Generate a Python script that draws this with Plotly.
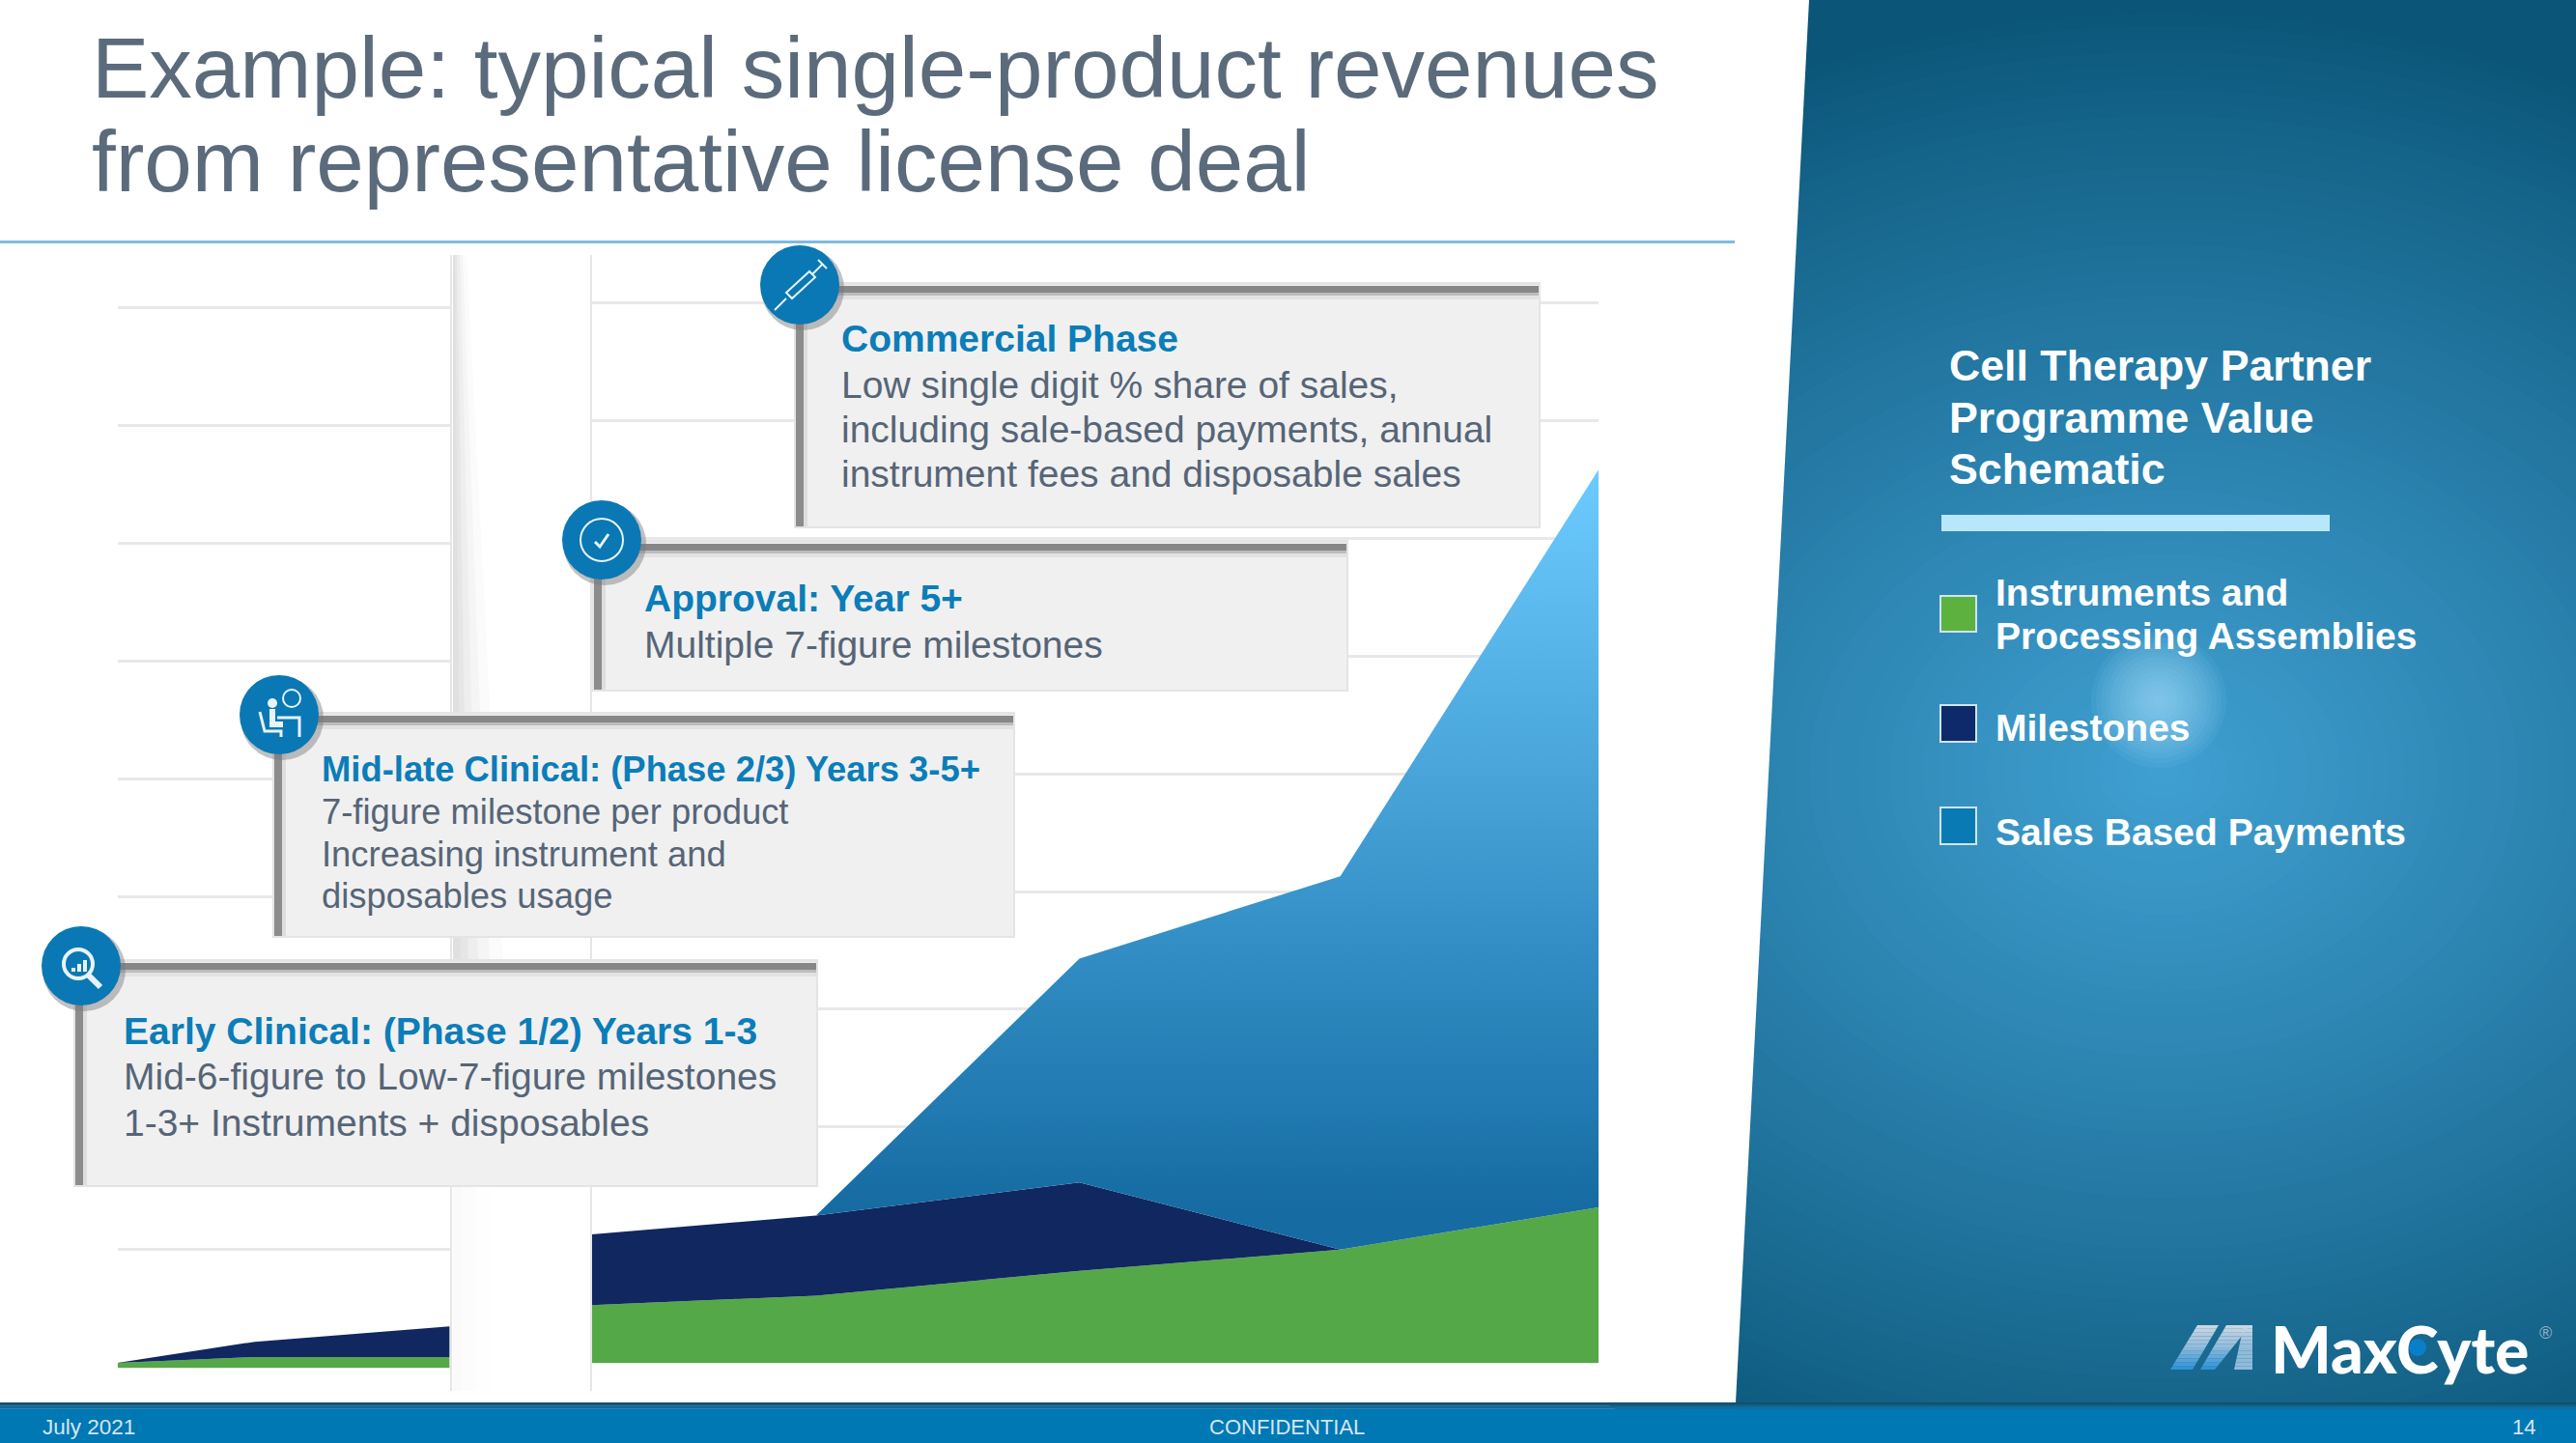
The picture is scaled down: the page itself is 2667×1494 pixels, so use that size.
import plotly.graph_objects as go

# ---------- data (arbitrary schematic units, 1 = one gridline) ----------
left_x = [0, 0.31, 0.75]
left_instruments = [0.04, 0.09, 0.09]
left_milestones = [0.0, 0.13, 0.26]

right_x = [0, 0.86, 1.87, 2.87, 3.86]
right_instruments = [0.49, 0.57, 0.78, 0.96, 1.32]
right_milestones = [0.60, 0.68, 0.75, 0.0, 0.0]
right_sales = [0.0, 0.0, 1.90, 3.17, 6.26]

series_names = ["Instruments and Processing Assemblies", "Milestones", "Sales Based Payments"]
series_colors = ["#55a847", "#10275f", "#0a78b4"]

title_lines = ["Example: typical single-product revenues", "from representative license deal"]
panel_heading = ["Cell Therapy Partner", "Programme Value", "Schematic"]
cards = [
    ("Commercial Phase", ["Low single digit % share of sales,",
                          "including sale-based payments, annual",
                          "instrument fees and disposable sales"]),
    ("Approval: Year 5+", ["Multiple 7-figure milestones"]),
    ("Mid-late Clinical: (Phase 2/3) Years 3-5+", ["7-figure milestone per product",
                                                   "Increasing instrument and",
                                                   "disposables usage"]),
    ("Early Clinical: (Phase 1/2) Years 1-3", ["Mid-6-figure to Low-7-figure milestones",
                                               "1-3+ Instruments + disposables"]),
]
footer_left, footer_mid, footer_right = "July 2021", "CONFIDENTIAL", "14"

# ---------- layout helpers ----------
W, H = 2667, 1494
X = lambda p: p / W
Y = lambda p: 1 - p / H
FONT = "Liberation Sans"
shapes, notes = [], []


def rect(x0, y0, x1, y1, color, layer="above", opacity=1, line=None, lw=0):
    shapes.append(dict(type="rect", xref="paper", yref="paper", x0=X(x0), x1=X(x1), y0=Y(y1), y1=Y(y0),
                       fillcolor=color, opacity=opacity, layer=layer,
                       line=dict(width=lw, color=line or color)))


def oval(cx, cy, rx, ry, color, layer="above", opacity=1, line=None, lw=0):
    shapes.append(dict(type="circle", xref="paper", yref="paper", x0=X(cx - rx), x1=X(cx + rx),
                       y0=Y(cy + ry), y1=Y(cy - ry), fillcolor=color, opacity=opacity, layer=layer,
                       line=dict(width=lw, color=line or color)))


def poly(pts, fill=None, line=None, lw=0, close=True, layer="above", opacity=1):
    d = "M " + " L ".join(f"{X(a):.5f},{Y(b):.5f}" for a, b in pts) + (" Z" if close else "")
    s = dict(type="path", xref="paper", yref="paper", path=d, layer=layer, opacity=opacity,
             line=dict(width=lw, color=line or "rgba(0,0,0,0)"))
    if fill:
        s["fillcolor"] = fill
    shapes.append(s)


def text(x, y, s, size, color, bold=False, anchor="left", family=FONT, weight=None):
    f = dict(family=family, size=size, color=color)
    if weight:
        f["weight"] = weight
    notes.append(dict(xref="paper", yref="paper", x=X(x), y=Y(y), text=f"<b>{s}</b>" if bold else s,
                      showarrow=False, xanchor=anchor, yanchor="middle", align=anchor,
                      font=f, borderpad=0))


def lerp(a, b, t):
    return "#" + "".join(f"{round(a[i] + (b[i] - a[i]) * t):02x}" for i in range(3))


# ---------- right panel background ----------
rect(1700, 0, W, 1494, "#0a5578", layer="below")
EDGE, CORE = (10, 85, 120), (64, 160, 210)
STEPS = 60
for i in range(STEPS):
    t = 1 - i / STEPS
    oval(2240, 800, 1000 * t, 800 * t, lerp(EDGE, CORE, (1 - t) ** 0.9), layer="below")
for i in range(14):
    t = 1 - i / 14
    oval(2235, 725, 70 * t, 70 * t, "#a8e0fb", layer="below", opacity=0.07)
poly([(0, 0), (1873, 0), (1797, 1452), (0, 1452)], fill="#ffffff", layer="below")

# soft band between the two chart panels: narrow at the top, wider further down
for w_top, w_bot, op in [(14, 52, 0.10), (10, 38, 0.14), (7, 26, 0.20), (4, 16, 0.28), (2, 8, 0.35)]:
    poly([(469, 264), (469 + w_top, 264), (469 + w_bot, 1000), (469, 1000)],
         fill="#d4d4d4", layer="below", opacity=op)
for w, op in [(40, 0.03), (24, 0.04), (10, 0.05)]:
    rect(469, 1228, 469 + w, 1440, "#d4d4d4", layer="below", opacity=op)

# title and rule
text(94, 70, title_lines[0], 89, "#5b6b7c")
text(94, 167, title_lines[1], 89, "#5b6b7c")
rect(0, 249, 1796, 252, "#7dbbe0", layer="below")

# ---------- callout cards ----------
card_boxes = [(824, 295, 1593, 545), (615, 562, 1394, 714), (284, 740, 1049, 969), (78, 996, 845, 1227)]
for (x0, y0, x1, y1) in card_boxes:
    rect(x0 - 2, y0 - 3, x1 + 2, y1 + 2, "#e4e4e4")
    rect(x0, y0, x1, y1, "#f0f0f0")
    rect(x0, y0 + 1, x1, y0 + 8, "#878787")
    rect(x0, y0 + 8, x1, y0 + 11, "#bcbcbc")
    rect(x0, y0 + 11, x1, y0 + 15, "#e2e2e2")
    rect(x0, y0, x0 + 8, y1, "#8c8c8c")
    rect(x0 + 8, y0 + 8, x0 + 12, y1, "#dedede")

HEAD, BODY = "#0b7db8", "#566577"
card_text = [
    (870, 350, 39, 39, [398, 445, 491]),
    (666, 619, 39, 39, [667]),
    (332, 796, 36.4, 36.4, [840, 884, 927]),
    (127, 1067, 39, 39, [1114, 1162]),
]
for (head, lines), (tx, hy, hs, bs, ys) in zip(cards, card_text):
    text(tx, hy, head, hs, HEAD, bold=True)
    for ln, ly in zip(lines, ys):
        text(tx, ly, ln, bs, BODY)

# ---------- round icons ----------
centres = [(828, 295), (623, 559), (289, 740), (84, 1000)]
for cx, cy in centres:
    oval(cx + 3, cy + 4, 43, 43, "#777777", opacity=0.45)
    oval(cx, cy, 41, 41, "#0a78b4")
WHT = "#e8f3f9"
# syringe
cx, cy = centres[0]
poly([(cx - 26, cy + 26), (cx - 14, cy + 14)], line=WHT, lw=2, close=False)
poly([(cx - 14, cy + 8), (cx + 10, cy - 14), (cx + 16, cy - 8), (cx - 8, cy + 14)], line=WHT, lw=2)
poly([(cx + 13, cy - 11), (cx + 24, cy - 22)], line=WHT, lw=2, close=False)
poly([(cx + 19, cy - 26), (cx + 28, cy - 17)], line=WHT, lw=2, close=False)
# badge with tick
cx, cy = centres[1]
oval(cx, cy, 22, 22, "rgba(0,0,0,0)", line=WHT, lw=2)
poly([(cx - 7, cy + 2), (cx - 2, cy + 7), (cx + 7, cy - 6)], line=WHT, lw=3, close=False)
# person at desk
cx, cy = centres[2]
oval(cx - 7, cy - 12, 5, 5, WHT)
poly([(cx - 20, cy - 3), (cx - 15, cy + 17), (cx + 2, cy + 17), (cx + 2, cy + 23)], line=WHT, lw=3, close=False)
poly([(cx - 7, cy - 6), (cx - 7, cy + 10), (cx + 4, cy + 10)], line=WHT, lw=6, close=False)
poly([(cx - 2, cy + 3), (cx + 21, cy + 3), (cx + 21, cy + 23)], line=WHT, lw=3, close=False)
oval(cx + 13, cy - 17, 9, 9, "rgba(0,0,0,0)", line=WHT, lw=2)
# magnifier
cx, cy = centres[3]
oval(cx - 3, cy - 2, 15, 15, "rgba(0,0,0,0)", line=WHT, lw=4)
poly([(cx + 8, cy + 10), (cx + 20, cy + 22)], line=WHT, lw=6, close=False)
for k, hgt in enumerate([4, 8, 12]):
    rect(cx - 10 + k * 6, cy + 6 - hgt, cx - 6 + k * 6, cy + 6, WHT)

# ---------- schematic legend panel ----------
for txt, y in zip(panel_heading, [378, 432, 485]):
    text(2017, y, txt, 44.7, "#ffffff", bold=True)
rect(2010, 533, 2412, 550, "#b8e6fb")
swatches = [(617, 654), (730, 768), (836, 874)]
for (y0, y1), col in zip(swatches, ["#5db13f", "#0f2a6b", "#0a7ab5"]):
    rect(2009, y0, 2046, y1, col, line="#cfe4ef", lw=2)
legend_parts = [("Instruments and", 613), ("Processing Assemblies", 659), (series_names[1], 753), (series_names[2], 862)]
for txt, y in legend_parts:
    text(2065, y, txt, 39, "#ffffff", bold=True)

# ---------- logo ----------
LOGO_BLUE, LOGO_MID, LOGO_LIGHT = (42, 144, 213), (143, 187, 219), (207, 217, 226)
def logo_stroke(bl, br, tl, tr, c_low, c_high, top=1372, bottom=1418, n=12):
    for i in range(n):
        a, b = i / n, (i + 1) / n
        ya, yb = bottom + (top - bottom) * a, bottom + (top - bottom) * b
        la, lb = bl + (tl - bl) * a, bl + (tl - bl) * b
        ra, rb = br + (tr - br) * a, br + (tr - br) * b
        u = (a + b) / 2
        col = lerp(c_low, LOGO_MID, min(u * 2, 1)) if u < 0.5 else lerp(LOGO_MID, c_high, u * 2 - 1)
        poly([(la, ya), (ra, ya), (rb, yb), (lb, yb)], fill=col)
logo_stroke(2247, 2270, 2275, 2297, LOGO_BLUE, LOGO_LIGHT)
logo_stroke(2278, 2293, 2305, 2330, LOGO_BLUE, LOGO_LIGHT)
logo_stroke(2313, 2332, 2323, 2332, LOGO_MID, LOGO_LIGHT)
text(2350, 1396, "MaxCyte", 66, "#ffffff", family="Lato", weight=900)
oval(2503, 1395, 9, 9, "#0a7fc9")
text(2635, 1380, "®", 18, "#8fb2c8", anchor="center")

# ---------- footer ----------
for i, c in enumerate(["#134d6a", "#125a7c", "#10668f", "#0c6fa2", "#0874ac"]):
    rect(0, 1452 + i * 1.6, W, 1454 + i * 1.6, c)
rect(0, 1460, W, 1494, "#0078b4")
text(43, 1477, footer_left, 22.5, "#d4e6f1")
text(1332, 1477, footer_mid, 22, "#d4e6f1", anchor="center")
text(2613, 1477, footer_right, 22, "#d4e6f1", anchor="center")

# ---------- chart ----------
fig = go.Figure()
for ys, name, col in zip([left_instruments, left_milestones], series_names, series_colors):
    fig.add_trace(go.Scatter(x=left_x, y=ys, name=name, mode="none", stackgroup="left", fillcolor=col,
                             xaxis="x", yaxis="y", showlegend=False))
for ys, name, col in zip([right_instruments, right_milestones], series_names, series_colors):
    fig.add_trace(go.Scatter(x=right_x, y=ys, name=name, mode="none", stackgroup="right", fillcolor=col,
                             xaxis="x2", yaxis="y2", showlegend=False))
fig.add_trace(go.Scatter(x=right_x, y=right_sales, name=series_names[2], mode="none", stackgroup="right",
                         fillgradient=dict(type="vertical", start=1.3, stop=7.6,
                                           colorscale=[[0, "#156ba2"], [0.13, "#2079b0"], [0.325, "#2f8bc1"],
                                                       [0.585, "#48a4d9"], [1, "#6dccff"]]),
                         xaxis="x2", yaxis="y2", showlegend=False))

grid = dict(showgrid=True, gridcolor="#e8e8e8", gridwidth=3, dtick=1, tick0=0, zeroline=False,
            showticklabels=False, ticks="", showline=True, linecolor="#e6e6e6", linewidth=2)
hidden = dict(showgrid=False, zeroline=False, showticklabels=False, ticks="", showline=False)
fig.update_layout(
    width=W, height=H, margin=dict(l=0, r=0, t=0, b=0), paper_bgcolor="#ffffff", plot_bgcolor="rgba(0,0,0,0)",
    showlegend=False, shapes=shapes, annotations=notes,
    xaxis=dict(domain=[X(121.7), X(465.6)], range=[0, 0.75], **hidden),
    xaxis2=dict(domain=[X(612.5), X(1655)], range=[0, 3.86], **hidden),
    yaxis=dict(domain=[Y(1440), Y(264)], range=[-0.197, 9.443], anchor="x", side="right", **grid),
    yaxis2=dict(domain=[Y(1440), Y(264)], range=[-0.238, 9.402], anchor="x2", side="left", **grid),
)
fig.write_html("out.html", config={"displayModeBar": False}, post_script="document.body.style.margin='0';")
